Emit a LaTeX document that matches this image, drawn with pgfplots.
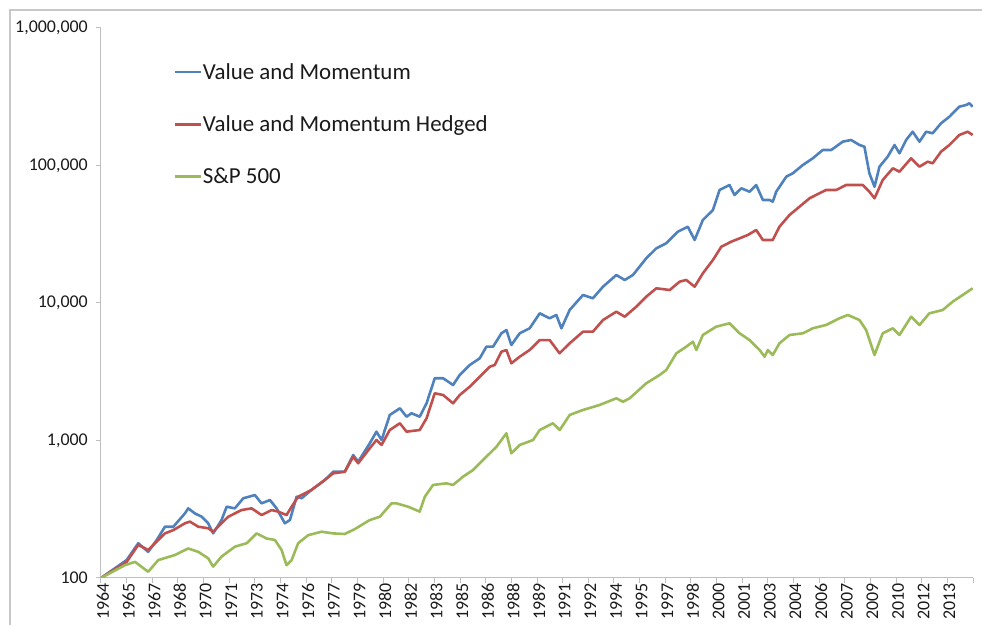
\documentclass[border=0pt]{standalone}
\usepackage{pgfplots}
\pgfplotsset{compat=1.18}
\usepackage{pgfplotstable}
\usepackage{fontspec}
\setmainfont{Carlito}
\definecolor{vmblue}{HTML}{4F81BD}
\definecolor{vmred}{HTML}{C0504D}
\definecolor{spgreen}{HTML}{9BBB59}
\definecolor{axgray}{HTML}{BFBFBF}
\definecolor{frgray}{HTML}{C8C8C8}
\definecolor{txt}{HTML}{1A1A1A}

\pgfplotstableread{
x y
1964.00 100
1965.50 135
1966.18 179
1966.76 155
1967.26 189
1967.74 236
1968.23 236
1968.91 295
1969.10 321
1969.49 295
1969.89 279
1970.27 250
1970.56 211
1971.05 264
1971.35 330
1971.83 321
1972.32 380
1973.00 401
1973.39 349
1973.88 369
1974.27 321
1974.75 250
1975.05 264
1975.44 390
1975.73 380
1976.31 437
1977.09 516
1977.58 593
1978.26 593
1978.75 784
1979.04 701
1979.72 954
1980.11 1159
1980.41 1008
1980.89 1533
1981.48 1715
1981.87 1490
1982.16 1577
1982.64 1490
1983.04 1864
1983.52 2834
1984.01 2834
1984.59 2533
1984.98 2994
1985.57 3541
1986.15 3960
1986.54 4811
1986.93 4811
1987.42 6020
1987.71 6362
1988.00 4949
1988.49 6020
1989.07 6546
1989.66 8414
1990.24 7740
1990.63 8179
1990.93 6546
1991.41 8894
1992.19 11435
1992.77 10819
1993.36 13137
1994.14 15980
1994.63 14700
1995.11 15980
1995.89 21140
1996.48 24990
1997.06 27180
1997.74 33000
1998.32 35880
1998.72 28720
1999.20 40140
1999.79 47450
2000.18 66350
2000.76 72150
2001.05 61020
2001.45 68260
2001.93 64480
2002.32 72150
2002.71 56120
2003.10 56120
2003.29 54530
2003.49 64480
2004.08 82890
2004.46 87770
2005.05 100830
2005.63 112820
2006.21 129630
2006.71 129630
2007.38 149000
2007.87 153300
2008.36 140960
2008.65 136980
2008.94 87770
2009.24 70100
2009.53 98020
2010.01 115880
2010.41 140960
2010.70 122630
2011.09 153300
2011.47 176100
2011.87 149000
2012.26 176100
2012.64 171500
2013.13 202700
2013.62 226400
2014.20 267700
2014.60 275400
2014.79 283400
2014.98 267700
}\vmdata

\pgfplotstableread{
x y
1964.00 100
1965.50 131
1966.18 174
1966.76 160
1967.74 211
1968.23 223
1968.91 250
1969.20 257
1969.69 236
1970.27 230
1970.56 217
1971.05 250
1971.44 279
1972.22 312
1972.81 321
1973.39 287
1973.98 312
1974.36 304
1974.85 287
1975.15 330
1975.53 390
1976.31 437
1977.09 516
1977.58 577
1978.26 593
1978.75 762
1979.04 683
1979.72 878
1980.11 1008
1980.41 928
1980.89 1192
1981.48 1334
1981.87 1159
1982.64 1192
1983.04 1450
1983.52 2205
1984.01 2142
1984.59 1864
1984.98 2142
1985.57 2462
1986.15 2911
1986.74 3441
1987.03 3541
1987.42 4423
1987.71 4552
1988.00 3643
1988.49 4069
1989.07 4552
1989.66 5374
1990.24 5374
1990.82 4307
1991.41 5092
1992.19 6185
1992.77 6185
1993.36 7521
1994.14 8643
1994.63 7951
1995.31 9399
1995.89 11110
1996.48 12790
1997.26 12430
1997.84 14285
1998.23 14700
1998.72 13137
1999.20 16440
1999.79 20550
2000.28 25670
2000.86 27910
2001.35 29540
2001.83 31220
2002.32 33960
2002.71 28720
2002.91 28720
2003.29 28720
2003.68 35880
2004.27 43650
2004.85 50160
2005.44 57740
2006.02 62770
2006.41 66350
2007.00 66350
2007.58 72150
2008.55 72150
2008.94 64480
2009.24 57740
2009.72 78430
2010.31 95420
2010.70 90130
2011.38 112820
2011.87 98020
2012.35 106560
2012.64 103750
2013.13 126000
2013.62 140960
2014.20 166650
2014.69 176100
2014.98 166650
}\vmhdata

\pgfplotstableread{
x y
1964.00 100
1965.40 124
1965.99 131
1966.76 111
1967.35 135
1968.33 147
1969.10 164
1969.69 155
1970.27 139
1970.56 121
1971.05 143
1971.83 169
1972.52 179
1973.10 211
1973.68 194
1974.17 189
1974.56 160
1974.85 124
1975.15 135
1975.53 179
1976.12 205
1976.90 217
1977.58 211
1978.26 209
1978.85 227
1979.72 264
1980.31 279
1980.99 349
1981.28 349
1981.96 330
1982.64 304
1982.94 390
1983.42 475
1984.20 488
1984.59 475
1985.17 545
1985.76 610
1986.34 722
1986.74 807
1987.13 901
1987.71 1128
1988.00 807
1988.49 928
1989.27 1008
1989.66 1192
1990.43 1334
1990.83 1192
1991.41 1533
1992.19 1667
1993.16 1812
1994.14 2027
1994.53 1915
1994.92 2027
1995.89 2606
1996.67 2994
1997.06 3256
1997.65 4307
1998.23 4811
1998.62 5230
1998.82 4552
1999.20 5852
1999.98 6724
2000.76 7119
2001.35 6020
2001.93 5374
2002.52 4552
2002.81 4069
2003.00 4552
2003.29 4186
2003.68 5092
2004.27 5852
2005.05 6020
2005.63 6546
2006.41 6918
2007.19 7740
2007.68 8179
2008.36 7521
2008.75 6362
2009.24 4186
2009.72 6020
2010.31 6546
2010.70 5852
2011.38 7951
2011.87 6918
2012.45 8414
2013.23 8894
2013.81 10220
2014.40 11435
2014.98 12790
}\spdata

\begin{document}
\begin{tikzpicture}
\begin{axis}[
  at={(0,0)}, anchor=south west,
  scale only axis, width=872bp, height=550bp,
  xmin=1964, xmax=2015,
  ymode=log, ymin=100, ymax=1000000,
  axis x line*=bottom, axis y line*=left,
  axis line style={axgray, line width=1bp},
  tick style={axgray, line width=1bp},
  tick align=outside, major tick length=5bp,
  ytick={100,1000,10000,100000,1000000},
  yticklabels={100,{1,000},{10,000},{100,000},{1,000,000}},
  yminorticks=false, xminorticks=false,
  xtick={1964,1965.5,1967,1968.5,1970,1971.5,1973,1974.5,1976,1977.5,1979,1980.5,1982,1983.5,1985,1986.5,1988,1989.5,1991,1992.5,1994,1995.5,1997,1998.5,2000,2001.5,2003,2004.5,2006,2007.5,2009,2010.5,2012,2013.5,2015},
  xticklabels={1964,1965,1967,1968,1970,1971,1973,1974,1976,1977,1979,1980,1982,1983,1985,1986,1988,1989,1991,1992,1994,1995,1997,1998,2000,2001,2003,2004,2006,2007,2009,2010,2012,2013,{}},
  /pgf/number format/assume math mode=true,
  x tick label style={rotate=90, anchor=east, font=\fontsize{18}{20}\selectfont, text=txt, inner sep=0pt, yshift=-2bp},
  y tick label style={anchor=east, font=\fontsize{18}{20}\selectfont, text=txt, inner sep=0pt, xshift=-8bp},
  legend cell align=left,
  legend style={at={(axis description cs:0.0826,0.938)}, anchor=north west, draw=none, fill=none,
    inner sep=0pt, row sep=33bp, column sep=0bp,
    font=\fontsize{23}{26}\selectfont, text=txt,
    nodes={inner sep=1bp}},
  legend image code/.code={\draw[#1] (0bp,0bp) -- (26bp,0bp);},
  every axis plot/.append style={line width=2.6bp, line join=round},
]
\addplot[vmblue] table[x=x, y=y] {\vmdata};
\addlegendentry{Value and Momentum}
\addplot[vmred] table[x=x, y=y] {\vmhdata};
\addlegendentry{Value and Momentum Hedged}
\addplot[spgreen] table[x=x, y=y] {\spdata};
\addlegendentry{S\&P 500}
\end{axis}
\draw[frgray, line width=1.5bp] (-91bp,-50bp) -- (-91bp,568bp) -- (884bp,568bp);
\pgfresetboundingbox
\path[use as bounding box] (-101bp,-47bp) rectangle (881bp,578bp);
\end{tikzpicture}
\end{document}
